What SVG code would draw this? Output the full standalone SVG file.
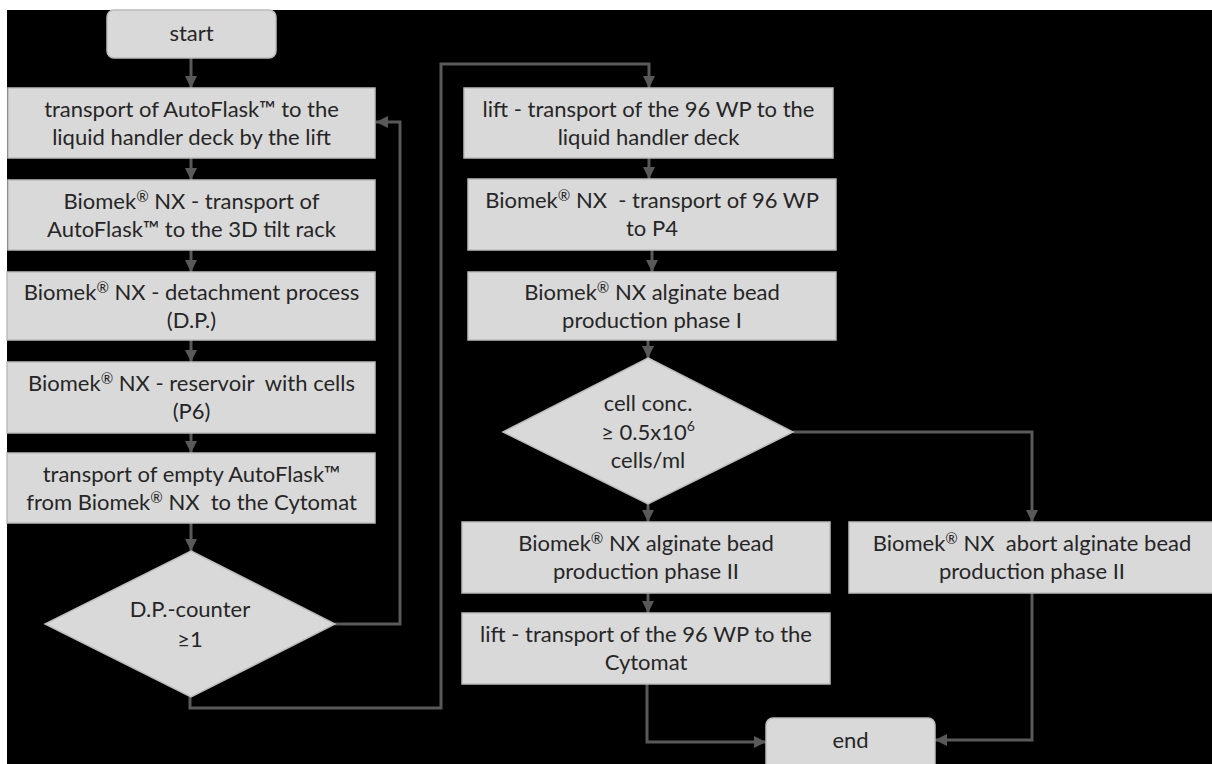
<svg xmlns="http://www.w3.org/2000/svg" width="1212" height="764" viewBox="0 0 1212 764">
<style>
.box{fill:#d9d9d9;stroke:#bcbcbc;stroke-width:1.5}
.t{font-family:Lato,"Open Sans","Liberation Sans",sans-serif;font-size:22px;fill:#262626;text-anchor:middle;white-space:pre}
.r{font-size:15px}
.c{fill:none;stroke:#595959;stroke-width:3}
</style>
<defs>
<marker id="ah" markerUnits="userSpaceOnUse" markerWidth="12" markerHeight="12" refX="10" refY="5" orient="auto" viewBox="0 0 10 10">
<path d="M0,0 L10,5 L0,10 z" fill="#595959"/>
</marker>
</defs>
<rect width="1212" height="764" fill="#ffffff"/>
<rect x="7" y="10" width="1205" height="754" fill="#000000"/>
<g id="connectors">
<path class="c" d="M191,58 V88" marker-end="url(#ah)"/>
<path class="c" d="M191,158 V180" marker-end="url(#ah)"/>
<path class="c" d="M191,250 V272" marker-end="url(#ah)"/>
<path class="c" d="M191,340 V362" marker-end="url(#ah)"/>
<path class="c" d="M191,433 V453" marker-end="url(#ah)"/>
<path class="c" d="M191,523 V551" marker-end="url(#ah)"/>
<path class="c" d="M335,624 H400 V122 H376" marker-end="url(#ah)"/>
<path class="c" d="M190,697 V708 H441 V64 H649 V88" marker-end="url(#ah)"/>
<path class="c" d="M649,158 V179" marker-end="url(#ah)"/>
<path class="c" d="M652,250 V272" marker-end="url(#ah)"/>
<path class="c" d="M648,340 V358" marker-end="url(#ah)"/>
<path class="c" d="M648,504 V522" marker-end="url(#ah)"/>
<path class="c" d="M648,593 V613" marker-end="url(#ah)"/>
<path class="c" d="M647,684 V742 H766" marker-end="url(#ah)"/>
<path class="c" d="M793,432 H1032 V522" marker-end="url(#ah)"/>
<path class="c" d="M1032,593 V740 H935" marker-end="url(#ah)"/>
</g>
<g id="start">
<rect class="box" x="107" y="10" width="169" height="48" rx="7"/>
<text class="t" x="191.5" y="41">start</text>
</g>
<g id="box1">
<rect class="box" x="8" y="88" width="367" height="70"/>
<text class="t" x="191.5" y="117">transport of AutoFlask™ to the</text>
<text class="t" x="191.5" y="145">liquid handler deck by the lift</text>
</g>
<g id="box2">
<rect class="box" x="8" y="180" width="367" height="70"/>
<text class="t" x="191.5" y="209">Biomek<tspan class="r" dy="-7">®</tspan><tspan dy="7"> NX - transport of</tspan></text>
<text class="t" x="191.5" y="237">AutoFlask™ to the 3D tilt rack</text>
</g>
<g id="box3">
<rect class="box" x="7" y="272" width="368" height="68"/>
<text class="t" x="191.5" y="300">Biomek<tspan class="r" dy="-7">®</tspan><tspan dy="7"> NX - detachment process</tspan></text>
<text class="t" x="191.5" y="328">(D.P.)</text>
</g>
<g id="box4">
<rect class="box" x="7" y="362" width="368" height="71"/>
<text class="t" x="191.5" y="391">Biomek<tspan class="r" dy="-7">®</tspan><tspan dy="7"> NX - reservoir  with cells</tspan></text>
<text class="t" x="191.5" y="419">(P6)</text>
</g>
<g id="box5">
<rect class="box" x="7" y="453" width="368" height="70"/>
<text class="t" x="191.5" y="482">transport of empty AutoFlask™</text>
<text class="t" x="191.5" y="510">from Biomek<tspan class="r" dy="-7">®</tspan><tspan dy="7"> NX  to the Cytomat</tspan></text>
</g>
<g id="decision1">
<polygon class="box" points="191,551 335,624 191,697 45,624"/>
<text class="t" x="190" y="617">D.P.-counter</text>
<text class="t" x="190" y="647">≥1</text>
</g>
<g id="box6">
<rect class="box" x="464" y="88" width="369" height="70"/>
<text class="t" x="648.5" y="117">lift - transport of the 96 WP to the</text>
<text class="t" x="648.5" y="145">liquid handler deck</text>
</g>
<g id="box7">
<rect class="box" x="468" y="179" width="368" height="71"/>
<text class="t" x="652" y="208">Biomek<tspan class="r" dy="-7">®</tspan><tspan dy="7"> NX  - transport of 96 WP</tspan></text>
<text class="t" x="652" y="236">to P4</text>
</g>
<g id="box8">
<rect class="box" x="468" y="272" width="368" height="68"/>
<text class="t" x="652" y="300">Biomek<tspan class="r" dy="-7">®</tspan><tspan dy="7"> NX alginate bead</tspan></text>
<text class="t" x="652" y="328">production phase I</text>
</g>
<g id="decision2">
<polygon class="box" points="648,358 793,432 648,504 503,432"/>
<text class="t" x="648" y="411">cell conc.</text>
<text class="t" x="648" y="440">≥ 0.5x10<tspan font-size="14" dy="-9">6</tspan></text>
<text class="t" x="648" y="468">cells/ml</text>
</g>
<g id="box9">
<rect class="box" x="462" y="522" width="368" height="71"/>
<text class="t" x="646" y="551">Biomek<tspan class="r" dy="-7">®</tspan><tspan dy="7"> NX alginate bead</tspan></text>
<text class="t" x="646" y="579">production phase II</text>
</g>
<g id="box10">
<rect class="box" x="462" y="613" width="368" height="71"/>
<text class="t" x="646" y="642">lift - transport of the 96 WP to the</text>
<text class="t" x="646" y="670">Cytomat</text>
</g>
<g id="box11">
<rect class="box" x="849" y="522" width="370" height="71"/>
<text class="t" x="1032" y="551">Biomek<tspan class="r" dy="-7">®</tspan><tspan dy="7"> NX  abort alginate bead</tspan></text>
<text class="t" x="1032" y="579">production phase II</text>
</g>
<g id="end">
<rect class="box" x="766" y="718" width="169" height="56" rx="7"/>
<text class="t" x="850.5" y="748">end</text>
</g>
</svg>
